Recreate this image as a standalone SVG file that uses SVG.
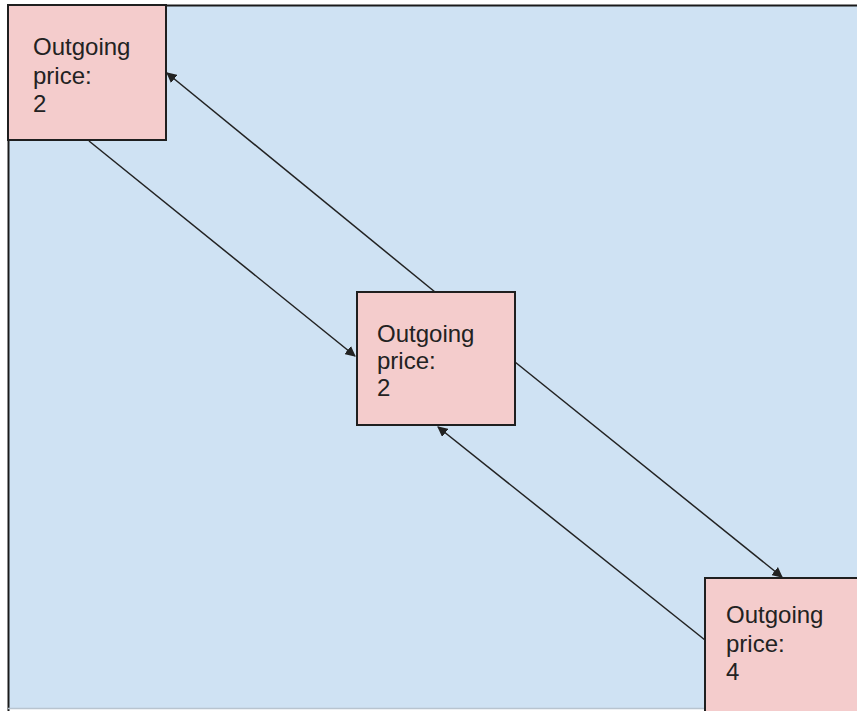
<svg xmlns="http://www.w3.org/2000/svg" width="857" height="711" viewBox="0 0 857 711">
<style>
.box{fill:#f4cccc;stroke:#1f1f1f;stroke-width:2}
.lbl{font-family:"Liberation Sans",Arial,sans-serif;font-size:24px;fill:#222}
.conn{stroke:#222;stroke-width:1.5;fill:none;marker-end:url(#ah)}
.edge{stroke:#1a1a1a;stroke-width:2}
</style>
<defs>
<marker id="ah" viewBox="0 0 10 10" refX="9" refY="5" markerWidth="7" markerHeight="7" orient="auto" markerUnits="strokeWidth">
<path d="M0,0 L10,5 L0,10 z" fill="#222"/>
</marker>
</defs>
<rect x="0" y="0" width="857" height="711" fill="#ffffff"/>
<g id="background">
<rect x="8" y="5" width="849" height="703" fill="#cfe2f3"/>
<line class="edge" x1="8" y1="5.5" x2="857" y2="5.5"/>
<line class="edge" x1="8.5" y1="5" x2="8.5" y2="711"/>
<line x1="8" y1="708.5" x2="857" y2="708.5" stroke="#b8c4cf" stroke-width="1.5"/>
</g>
<g id="connectors">
<line class="conn" x1="89" y1="141" x2="355" y2="356"/>
<line class="conn" x1="435" y1="292" x2="167" y2="73"/>
<line class="conn" x1="515" y1="362" x2="782" y2="577"/>
<line class="conn" x1="705" y1="640" x2="438" y2="427"/>
</g>
<g id="node1">
<rect class="box" x="8" y="5" width="158" height="135"/>
<text class="lbl" x="33" y="55">Outgoing</text>
<text class="lbl" x="33" y="84">price:</text>
<text class="lbl" x="33" y="112">2</text>
</g>
<g id="node2">
<rect class="box" x="357" y="292" width="158" height="133"/>
<text class="lbl" x="377" y="342">Outgoing</text>
<text class="lbl" x="377" y="369">price:</text>
<text class="lbl" x="377" y="396">2</text>
</g>
<g id="node3">
<rect class="box" x="705" y="578" width="160" height="140"/>
<text class="lbl" x="726" y="623">Outgoing</text>
<text class="lbl" x="726" y="652">price:</text>
<text class="lbl" x="726" y="680">4</text>
</g>
</svg>
